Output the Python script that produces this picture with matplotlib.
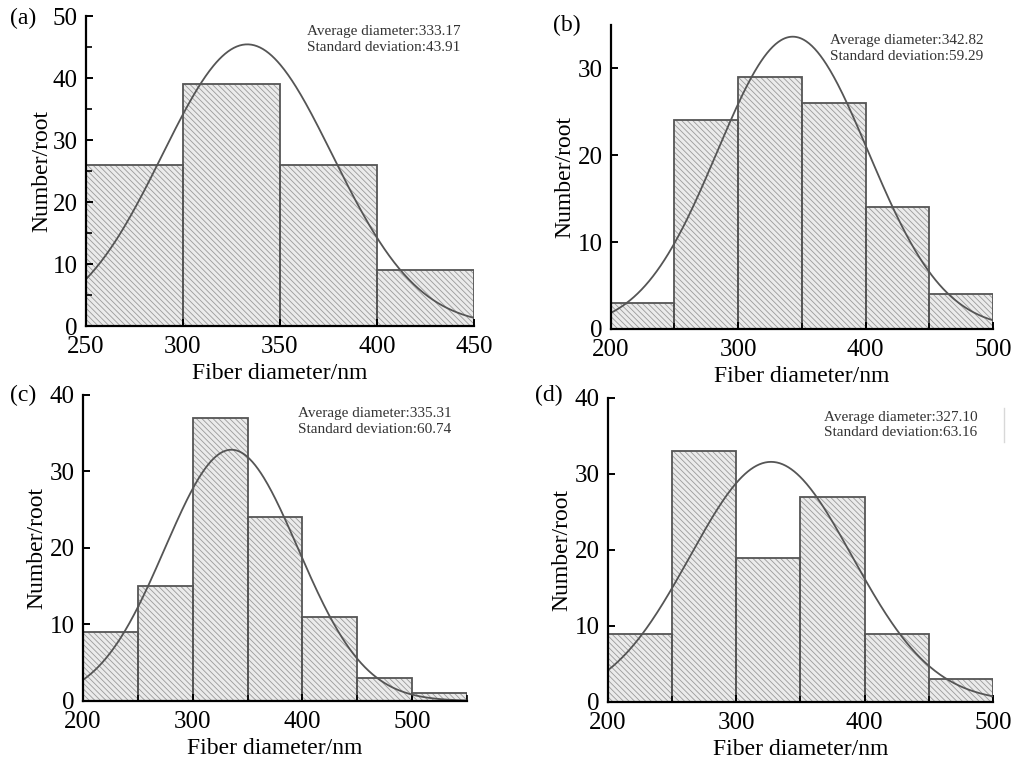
import matplotlib.pyplot as plt
import numpy as np
from matplotlib.ticker import MultipleLocator

# bin edges start and counts per 50 nm bin
bin_width = 50
starts_a = [250, 300, 350, 400]
counts_a = [26, 39, 26, 9]
starts_b = [200, 250, 300, 350, 400, 450]
counts_b = [3, 24, 29, 26, 14, 4]
starts_c = [200, 250, 300, 350, 400, 450, 500]
counts_c = [9, 15, 37, 24, 11, 3, 1]
starts_d = [200, 250, 300, 350, 400, 450]
counts_d = [9, 33, 19, 27, 9, 3]

means = [333.17, 342.82, 335.31, 327.10]
stds = [43.91, 59.29, 60.74, 63.16]
tags = ["(a)", "(b)", "(c)", "(d)"]

plt.rcParams["font.family"] = ["Liberation Serif", "DejaVu Serif"]
plt.rcParams["hatch.linewidth"] = 0.6

fig = plt.figure(figsize=(10.18, 7.66), dpi=100)

panels = [
    dict(starts=starts_a, counts=counts_a, rect=[0.0845, 0.5744, 0.381, 0.4047],
         xlim=(250, 450), ylim=(0, 50), xmaj=50, xmin=None, ymin=5,
         txt=(0.57, 0.97), tag=(10, 18), ylab_x=52),
    dict(starts=starts_b, counts=counts_b, rect=[0.600, 0.5705, 0.3754, 0.397],
         xlim=(200, 500), ylim=(0, 35), xmaj=100, xmin=50, ymin=None,
         txt=(0.573, 0.97), tag=(553, 25), ylab_x=575),
    dict(starts=starts_c, counts=counts_c, rect=[0.0815, 0.0849, 0.3772, 0.3995],
         xlim=(200, 550), ylim=(0, 40), xmaj=100, xmin=50, ymin=None,
         txt=(0.56, 0.96), tag=(10, 395), ylab_x=47),
    dict(starts=starts_d, counts=counts_d, rect=[0.5972, 0.0836, 0.3782, 0.397],
         xlim=(200, 500), ylim=(0, 40), xmaj=100, xmin=50, ymin=None,
         txt=(0.561, 0.957), tag=(535, 395), ylab_x=572),
]

W, H = 1018, 766
for i, p in enumerate(panels):
    ax = fig.add_axes(p["rect"])
    ax.bar(p["starts"], p["counts"], width=bin_width, align="edge",
           facecolor="#ebebeb", edgecolor="#9a9a9a", hatch="\\" * 6, linewidth=0)
    ax.bar(p["starts"], p["counts"], width=bin_width, align="edge",
           fill=False, edgecolor="#555555", linewidth=1.3)

    n = sum(p["counts"])
    xs = np.linspace(p["xlim"][0], p["xlim"][1], 400)
    ys = n * bin_width / (np.sqrt(2 * np.pi) * stds[i]) * np.exp(-0.5 * ((xs - means[i]) / stds[i]) ** 2)
    ax.plot(xs, ys, color="#555555", linewidth=1.3)

    ax.set_xlim(*p["xlim"])
    ax.set_ylim(*p["ylim"])
    ax.spines["top"].set_visible(False)
    ax.spines["right"].set_visible(False)
    ax.spines["left"].set_linewidth(1.6)
    ax.spines["bottom"].set_linewidth(1.6)
    ax.xaxis.set_major_locator(MultipleLocator(p["xmaj"]))
    if p["xmin"]:
        ax.xaxis.set_minor_locator(MultipleLocator(p["xmin"]))
    ax.yaxis.set_major_locator(MultipleLocator(10))
    if p["ymin"]:
        ax.yaxis.set_minor_locator(MultipleLocator(p["ymin"]))
    ax.tick_params(which="major", direction="in", length=5, width=1.4, labelsize=18)
    ax.tick_params(which="minor", direction="in", length=4, width=1.2)
    ax.tick_params(axis="x", pad=7)
    ax.tick_params(axis="y", pad=6)

    ax.set_xlabel("Fiber diameter/nm", fontsize=17, labelpad=4)
    ax.set_ylabel("Number/root", fontsize=17)
    ax.yaxis.set_label_coords((p["ylab_x"] - p["rect"][0] * W) / (p["rect"][2] * W), 0.5)
    ax.text(p["txt"][0], p["txt"][1],
            f"Average diameter:{means[i]:.2f}\nStandard deviation:{stds[i]:.2f}",
            transform=ax.transAxes, fontsize=11, va="top", ha="left",
            color="#333333", linespacing=1.25)
    fig.text(p["tag"][0] / W, 1 - p["tag"][1] / H, tags[i], fontsize=17, va="center", ha="left")

# faint scan mark beside the (d) annotation
fig.add_artist(plt.Line2D([1004 / W, 1004 / W], [1 - 408 / H, 1 - 442 / H], color="#d8d8d8", linewidth=1))

fig.savefig("out.png", dpi=100)
